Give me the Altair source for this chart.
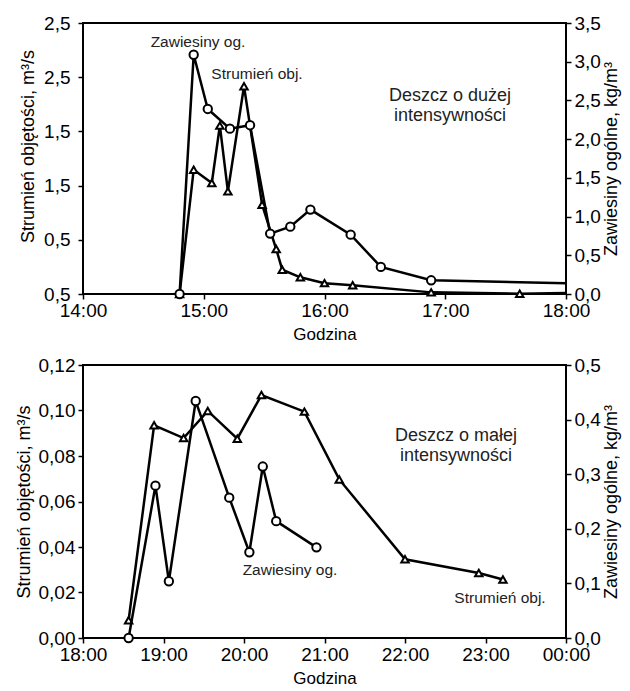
import json
import altair as alt
import pandas as pd

FONT = "Liberation Sans"

# ---------------- top panel: heavy rain ----------------
top_x_labels = ["14:00", "15:00", "16:00", "17:00", "18:00"]
top_x_values = [14, 15, 16, 17, 18]
top_left_values = [0, 0.5, 1.0, 1.5, 2.0, 2.5]
top_left_labels = ["0,5", "0,5", "1,5", "1,5", "2,5", "2,5"]  # as printed in the source
top_right_values = [0, 0.5, 1.0, 1.5, 2.0, 2.5, 3.0, 3.5]
top_right_labels = ["0,0", "0,5", "1,0", "1,5", "2,0", "2,5", "3,0", "3,5"]

top_flow_time = ["14:48", "14:55", "15:04", "15:08", "15:12", "15:20", "15:29", "15:36",
                 "15:39", "15:48", "16:00", "16:14", "16:53", "17:37", "18:00"]
top_flow_value = [0.0, 1.147, 1.024, 1.553, 0.947, 1.916, 0.824, 0.415,
                  0.224, 0.154, 0.10, 0.08, 0.015, 0.003, 0.01]
top_flow_marker = [1] * 14 + [0]

top_tss_time = ["14:48", "14:55", "15:02", "15:13", "15:23", "15:33", "15:43", "15:53",
                "16:13", "16:28", "16:53", "18:00"]
top_tss_value = [0.0, 3.09, 2.39, 2.135, 2.18, 0.78, 0.87, 1.09, 0.766, 0.35, 0.177, 0.14]
top_tss_marker = [1] * 11 + [0]

# ---------------- bottom panel: light rain ----------------
bot_x_labels = ["18:00", "19:00", "20:00", "21:00", "22:00", "23:00", "00:00"]
bot_x_values = [18, 19, 20, 21, 22, 23, 24]
bot_left_values = [0, 0.02, 0.04, 0.06, 0.08, 0.10, 0.12]
bot_left_labels = ["0,00", "0,02", "0,04", "0,06", "0,08", "0,10", "0,12"]
bot_right_values = [0, 0.1, 0.2, 0.3, 0.4, 0.5]
bot_right_labels = ["0,0", "0,1", "0,2", "0,3", "0,4", "0,5"]

bot_flow_time = ["18:34", "18:53", "19:15", "19:33", "19:55", "20:13", "20:45", "21:11",
                 "22:00", "22:55", "23:13"]
bot_flow_value = [0.0078, 0.0935, 0.0879, 0.0998, 0.0876, 0.1068, 0.0995, 0.0697,
                  0.0346, 0.0286, 0.0257]
bot_flow_marker = [1] * 11

bot_tss_time = ["18:34", "18:54", "19:04", "19:24", "19:49", "20:04", "20:14", "20:24", "20:54"]
bot_tss_value = [0.0, 0.279, 0.104, 0.434, 0.257, 0.157, 0.314, 0.214, 0.166]
bot_tss_marker = [1] * 9


def to_hours(t):
    h, m = t.split(":")
    return int(h) + int(m) / 60.0


def frame(times, values, marker):
    return pd.DataFrame({"h": [to_hours(t) for t in times], "v": values, "m": marker})


def label_expr(values, labels):
    step = values[1] - values[0]
    return f"{json.dumps(labels)}[round((datum.value - ({values[0]})) / {step})]"


def series(df, shape, size, y_dom, y_vals, y_labels, axis_kw, xenc):
    y = alt.Y(
        "v:Q",
        scale=alt.Scale(domain=y_dom, nice=False, zero=False),
        axis=alt.Axis(values=y_vals, labelExpr=label_expr(y_vals, y_labels), **axis_kw),
    )
    line = alt.Chart(df).mark_line(color="black", strokeWidth=2.5, clip=True).encode(x=xenc, y=y)
    pts = (
        alt.Chart(df)
        .transform_filter("datum.m == 1")
        .mark_point(shape=shape, size=size, filled=True, fill="white", stroke="black",
                    strokeWidth=2, opacity=1)
        .encode(x=xenc, y=y)
    )
    return alt.layer(line, pts)


def texts(items):
    dummy = pd.DataFrame({"d": [0]})
    layers = []
    for txt, px, py, fs in items:
        layers.append(
            alt.Chart(dummy).mark_text(text=txt, font=FONT, fontSize=fs, color="#222",
                                       align="center", baseline="middle",
                                       lineBreak="\n", lineHeight=fs + 1.5)
            .encode(x=alt.value(px), y=alt.value(py))
        )
    return layers


def panel(flow_df, tss_df, x_vals, x_labels, left_vals, left_labels, right_vals, right_labels,
          height, notes, left_kw):
    xenc = alt.X(
        "h:Q",
        scale=alt.Scale(domain=[x_vals[0], x_vals[-1]], nice=False, zero=False),
        axis=alt.Axis(values=x_vals, labelExpr=label_expr(x_vals, x_labels),
                      title="Godzina", labelFlush=False, titleFontSize=17, titlePadding=6),
    )
    flow = series(flow_df, "triangle-up", 55, [left_vals[0], left_vals[-1]], left_vals,
                  left_labels,
                  dict(orient="left", title="Strumień objętości, m³/s", **left_kw), xenc)
    tss = series(tss_df, "circle", 70, [right_vals[0], right_vals[-1]], right_vals,
                 right_labels,
                 dict(orient="right", title="Zawiesiny ogólne, kg/m³", labelPadding=3,
                      titleAngle=270, titleBaseline="top", titlePadding=2), xenc)
    main = alt.layer(flow, tss).resolve_scale(y="independent")
    return alt.layer(main, *texts(notes)).properties(width=483, height=height)


top = panel(
    frame(top_flow_time, top_flow_value, top_flow_marker),
    frame(top_tss_time, top_tss_value, top_tss_marker),
    top_x_values, top_x_labels, top_left_values, top_left_labels,
    top_right_values, top_right_labels, 271,
    [("Zawiesiny og.", 115, 19, 15.5), ("Strumień obj.", 174, 51, 15.5),
     ("Deszcz o dużej\nintensywności", 367, 73, 18)],
    dict(labelPadding=8, titlePadding=6, titleY=123),
)

bottom = panel(
    frame(bot_flow_time, bot_flow_value, bot_flow_marker),
    frame(bot_tss_time, bot_tss_value, bot_tss_marker),
    bot_x_values, bot_x_labels, bot_left_values, bot_left_labels,
    bot_right_values, bot_right_labels, 273,
    [("Deszcz o małej\nintensywności", 373, 71, 18), ("Zawiesiny og.", 207, 205, 15.5),
     ("Strumień obj.", 417, 233, 15.5)],
    dict(labelPadding=3, titlePadding=5),
)

chart = (
    alt.vconcat(top, bottom, spacing=12)
    .properties(padding={"left": 6, "top": 5, "right": 0, "bottom": 3})
    .configure_view(stroke="black", strokeWidth=2)
    .configure_axis(
        domain=False, grid=False, tickColor="black", tickSize=5, tickWidth=1.5,
        labelFont=FONT, labelFontSize=19, labelColor="black",
        titleFont=FONT, titleFontSize=18, titleFontWeight="normal", titleColor="black",
    )
)

chart.save("out.html", embed_options={"renderer": "svg", "actions": False})
